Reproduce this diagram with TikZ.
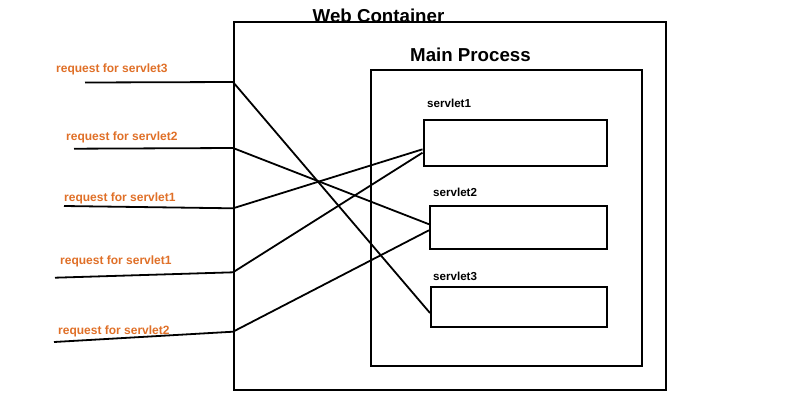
\documentclass[tikz,border=0pt]{standalone}
\usepackage{fontspec}
\setmainfont{Liberation Sans}
\definecolor{reqorange}{RGB}{224,112,40}
\tikzset{
  x=1pt, y=-1pt,
  frame/.style={draw=black, line width=2pt, fill=none, inner sep=0pt, anchor=north west},
  conn/.style={draw=black, line width=1.8pt, line join=miter},
  reqlabel/.style={text=reqorange, font=\bfseries\fontsize{12}{14}\selectfont, inner sep=0pt, anchor=base west},
  svlabel/.style={font=\bfseries\fontsize{11.6}{13}\selectfont, inner sep=0pt, anchor=base west},
  title/.style={font=\bfseries\fontsize{18.7}{22}\selectfont, inner sep=0pt, anchor=base west}
}
\begin{document}
\begin{tikzpicture}
\useasboundingbox (0,0) rectangle (800,400);
\fill[white] (0,0) rectangle (800,400);
% titles
\node[title] (wctitle) at (312.5,22) {Web Container};
\node[title] (mptitle) at (410,61) {Main Process};
% containers
\node[frame, minimum width=432pt, minimum height=368pt] (wc) at (233,21) {};
\node[frame, minimum width=271pt, minimum height=296pt] (mp) at (370,69) {};
% servlet boxes
\node[frame, minimum width=183pt, minimum height=46pt] (sv1) at (422.5,119) {};
\node[frame, minimum width=177pt, minimum height=42.5pt] (sv2) at (429,205) {};
\node[frame, minimum width=176pt, minimum height=40pt] (sv3) at (430,286) {};
% servlet labels
\node[svlabel] (sl1) at (427,107.5) {servlet1};
\node[svlabel] (sl2) at (433,196.5) {servlet2};
\node[svlabel] (sl3) at (433,280) {servlet3};
% request labels
\node[reqlabel] (r1) at (56,72) {request for servlet3};
\node[reqlabel] (r2) at (66,140) {request for servlet2};
\node[reqlabel] (r3) at (64,201.5) {request for servlet1};
\node[reqlabel] (r4) at (60,264) {request for servlet1};
\node[reqlabel] (r5) at (58,334) {request for servlet2};
% free ends and entry points
\coordinate (f1) at (85,82.5);
\coordinate (f2) at (74,148.7);
\coordinate (f3) at (64,206);
\coordinate (f4) at (55,277.7);
\coordinate (f5) at (54,342);
\coordinate (e1) at (233,82);
\coordinate (e2) at (233,148);
\coordinate (e3) at (233,208.3);
\coordinate (e4) at (233,272.3);
\coordinate (e5) at (233,331.7);
% connectors
\draw[conn] (f1) -- (e1) -- ([yshift=-6pt]sv3.west);
\draw[conn] (f2) -- (e2) -- ([yshift=3pt]sv2.west);
\draw[conn] (f3) -- (e3) -- ([yshift=-6.3pt]sv1.west);
\draw[conn] (f4) -- (e4) -- ([yshift=-9.7pt]sv1.west);
\draw[conn] (f5) -- (e5) -- ([yshift=-3pt]sv2.west);
\end{tikzpicture}
\end{document}
